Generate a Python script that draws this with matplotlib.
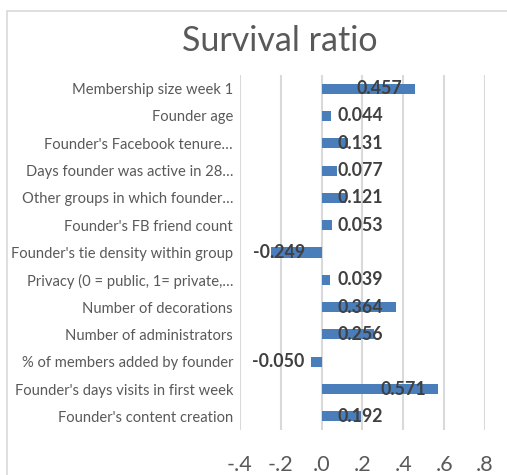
import matplotlib
matplotlib.use("Agg")
import matplotlib.pyplot as plt
from matplotlib.patches import Rectangle
from matplotlib.ticker import FuncFormatter

categories = [
    "Membership size week 1",
    "Founder age",
    "Founder's Facebook tenure\u2026",
    "Days founder was active in 28\u2026",
    "Other groups in which founder\u2026",
    "Founder's FB friend count",
    "Founder's tie density within group",
    "Privacy (0 = public, 1= private,\u2026",
    "Number of decorations",
    "Number of administrators",
    "% of members added by founder",
    "Founder's days visits in first week",
    "Founder's content creation",
]
values = [0.457, 0.044, 0.131, 0.077, 0.121, 0.053, -0.249, 0.039, 0.364, 0.256, -0.050, 0.571, 0.192]
xticks = [-0.4, -0.2, 0.0, 0.2, 0.4, 0.6, 0.8]
title = "Survival ratio"

plt.rcParams['font.family'] = ['Lato', 'DejaVu Sans']

W, H = 507, 475
fig = plt.figure(figsize=(W / 100, H / 100), dpi=100)
fig.patch.set_facecolor("white")
fig.patches.append(Rectangle((7 / W, -0.1), 1.2, 1 - 11 / H + 0.1, transform=fig.transFigure,
                             fill=False, edgecolor="#D9D9D9", linewidth=1.2))

ax = fig.add_axes([240 / W, 1 - 430 / H, (485 - 240) / W, (430 - 75) / H])
ypos = list(range(len(categories)))
ax.barh(ypos, values, height=0.37, color="#4A7EBB", zorder=3)
ax.set_ylim(len(categories) - 0.5, -0.5)
ax.set_xlim(-0.4, 0.8)
ax.set_xticks(xticks)
ax.xaxis.set_major_formatter(FuncFormatter(lambda v, p: ("-" if v < -1e-9 else "") + ("%.1f" % abs(v)).lstrip("0")))
ax.grid(axis="x", color="#D9D9D9", linewidth=1.5, zorder=0)
ax.set_axisbelow(True)
for s in ax.spines.values():
    s.set_visible(False)
ax.set_yticks(ypos)
ax.set_yticklabels(categories, fontsize=10.6, color="#595959")
ax.tick_params(axis="y", length=0, pad=5)
ax.tick_params(axis="x", length=0, pad=18, labelsize=15.5, labelcolor="#595959")

for y, v in zip(ypos, values):
    if v >= 0:
        ax.text(max(v - 0.284, 0.078), y, "%.3f" % v, ha="left", va="center",
                fontsize=12.8, fontweight="bold", color="#404040", zorder=4)
    else:
        ax.text(min(v + 0.284, -0.083), y, "%.3f" % v, ha="right", va="center",
                fontsize=12.8, fontweight="bold", color="#404040", zorder=4)

fig.text(280 / W, 1 - 41 / H, title, ha="center", va="center", fontsize=24.5, color="#595959")

fig.savefig("out.png", dpi=100)
